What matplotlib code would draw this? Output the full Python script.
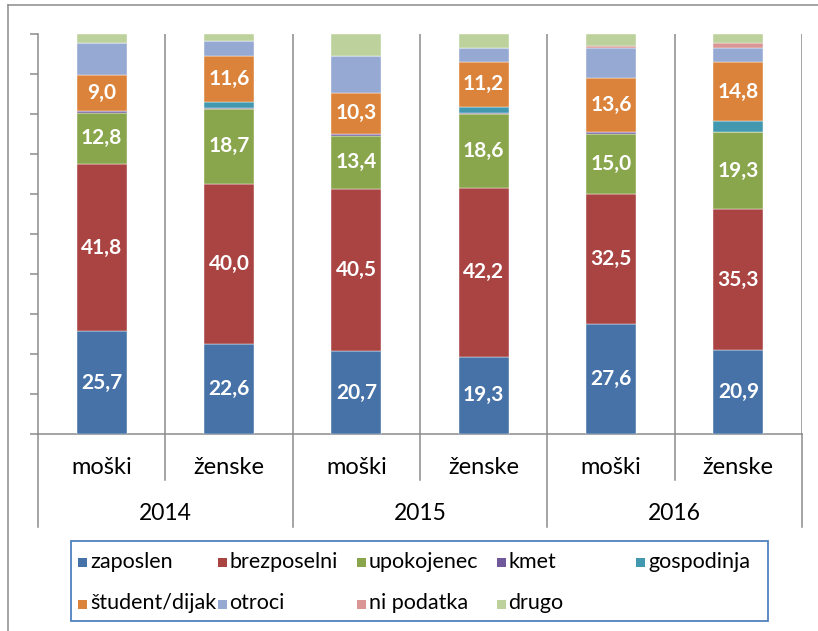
import matplotlib
matplotlib.use('Agg')
import matplotlib.pyplot as plt
from matplotlib.patches import Rectangle
from matplotlib.lines import Line2D
import matplotlib.transforms as mtransforms
import numpy as np

plt.rcParams['font.family'] = ['Lato', 'DejaVu Sans']

# data (percent shares)
sex_labels = ['moški', 'ženske', 'moški', 'ženske', 'moški', 'ženske']
year_labels = ['2014', '2015', '2016']

series_names = ['zaposlen', 'brezposelni', 'upokojenec', 'kmet', 'gospodinja',
                'študent/dijak', 'otroci', 'ni podatka', 'drugo']
zaposlen = [25.7, 22.6, 20.7, 19.3, 27.6, 20.9]
brezposelni = [41.8, 40.0, 40.5, 42.2, 32.5, 35.3]
upokojenec = [12.8, 18.7, 13.4, 18.6, 15.0, 19.3]
kmet = [0.4, 0.2, 0.4, 0.2, 0.3, 0.1]
gospodinja = [0.0, 1.5, 0.0, 1.5, 0.0, 2.6]
student = [9.0, 11.6, 10.3, 11.2, 13.6, 14.8]
otroci = [8.0, 3.7, 9.3, 3.6, 7.4, 3.6]
ni_podatka = [0.0, 0.0, 0.0, 0.0, 0.7, 1.2]
drugo = [2.3, 1.7, 5.4, 3.4, 2.9, 2.2]

all_series = [zaposlen, brezposelni, upokojenec, kmet, gospodinja,
              student, otroci, ni_podatka, drugo]
labelled = [0, 1, 2, 5]  # series that carry value labels

colors = ['#4672A7', '#A94442', '#8AA64C', '#71589A', '#4198AF',
          '#DC833B', '#95A9D2', '#D99694', '#BCD19B']
GRAY = '#8C8C8C'

W, H = 818, 631
fig = plt.figure(figsize=(W / 100, H / 100), dpi=100)

# axes placed in pixel terms
ax_left, ax_right, ax_top, ax_bottom = 38, 802, 34, 434
ax = fig.add_axes([ax_left / W, (H - ax_bottom) / H,
                   (ax_right - ax_left) / W, (ax_bottom - ax_top) / H])

x = np.arange(len(sex_labels))
bottom = np.zeros(len(x))
for idx, vals in enumerate(all_series):
    vals = np.array(vals)
    bars = ax.bar(x, vals, bottom=bottom, width=0.393, color=colors[idx],
                  edgecolor='white', linewidth=0.3, zorder=3)
    if idx in labelled:
        ax.bar_label(bars, label_type='center', color='white',
                     fontsize=15, fontweight='bold',
                     fmt=lambda v: f'{v:.1f}'.replace('.', ','))
    bottom += vals

ax.set_xlim(-0.5, 5.5)
ax.set_ylim(0, 100)
ax.set_yticks(np.arange(0, 101, 10))
ax.set_yticklabels([])
ax.set_xticks([])
ax.tick_params(axis='y', direction='out', length=6, width=1.1, color=GRAY)
for side in ['top', 'right']:
    ax.spines[side].set_visible(False)
for side in ['left', 'bottom']:
    ax.spines[side].set_color(GRAY)
    ax.spines[side].set_linewidth(1.1)

# vertical separators inside plot
for b in np.arange(0.5, 6, 1.0):
    ax.plot([b, b], [0, 100], color=GRAY, lw=1.1, zorder=1)

# multi-level category axis below
trans = mtransforms.blended_transform_factory(ax.transData, ax.transAxes)
y_short = (ax_bottom - 480) / (ax_bottom - ax_top)
y_long = (ax_bottom - 527) / (ax_bottom - ax_top)
for b in [0.5, 2.5, 4.5]:
    ax.plot([b, b], [0, y_short], color=GRAY, lw=1.1, transform=trans, clip_on=False)
for b in [-0.5, 1.5, 3.5, 5.5]:
    ax.plot([b, b], [0, y_long], color=GRAY, lw=1.1, transform=trans, clip_on=False)

y_sex = (ax_bottom - 467) / (ax_bottom - ax_top)
y_year = (ax_bottom - 513) / (ax_bottom - ax_top)
for i, lab in enumerate(sex_labels):
    ax.text(i, y_sex, lab, transform=trans, ha='center', va='center', fontsize=17)
for j, lab in enumerate(year_labels):
    ax.text(2 * j + 0.5, y_year, lab, transform=trans, ha='center', va='center', fontsize=16.5)

# outer chart border (cropped on right and bottom)
fig.add_artist(Line2D([8 / W, 1.0], [1 - 5 / H, 1 - 5 / H], color=GRAY, lw=1.1,
                      transform=fig.transFigure))
fig.add_artist(Line2D([8 / W, 8 / W], [0.0, 1 - 5 / H], color=GRAY, lw=1.1,
                      transform=fig.transFigure))

# legend drawn by hand so columns are evenly spaced
lx0, ly0, lx1, ly1 = 71, 541, 768, 621
fig.add_artist(Rectangle((lx0 / W, 1 - ly1 / H), (lx1 - lx0) / W, (ly1 - ly0) / H,
                         transform=fig.transFigure, fill=False,
                         edgecolor='#4F81BD', lw=1.3))
col_x = [78 + 139.5 * k for k in range(5)]
row_y = [562.5, 604]
for idx, name in enumerate(series_names):
    r, c = divmod(idx, 5)
    mx, my = col_x[c], row_y[r]
    fig.add_artist(Rectangle((mx / W, 1 - (my + 4.5) / H), 9 / W, 9 / H,
                             transform=fig.transFigure, color=colors[idx], lw=0))
    fig.text((mx + 12) / W, 1 - (my - 1) / H, name, ha='left', va='center', fontsize=15.5)

fig.savefig('out.png', dpi=100)
